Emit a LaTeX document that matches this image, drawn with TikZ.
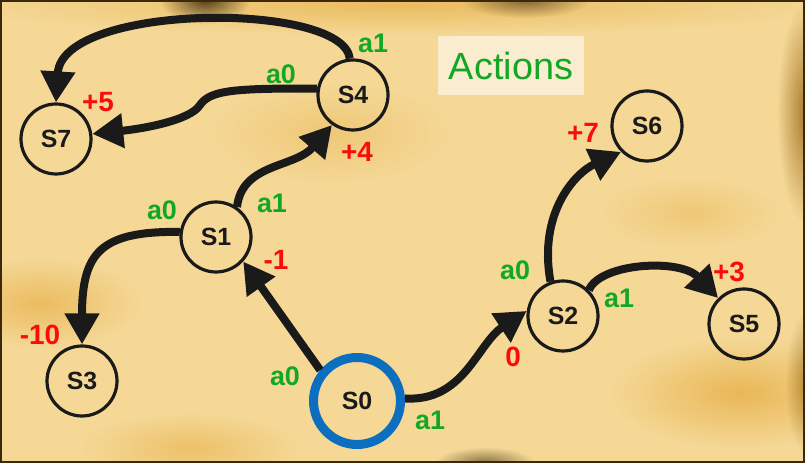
\documentclass[tikz,border=0pt]{standalone}
\usepackage{fontspec}
\setmainfont{Liberation Sans}
\usetikzlibrary{arrows.meta,fadings}
\definecolor{mlparch}{RGB}{245,216,150}
\definecolor{mlburn}{RGB}{60,40,10}
\definecolor{mlumber}{RGB}{150,100,20}
\definecolor{mlochre}{RGB}{228,170,60}
\definecolor{mlgreen}{RGB}{18,168,38}
\definecolor{mlred}{RGB}{250,12,12}
\definecolor{mlblue}{RGB}{12,110,190}
\definecolor{mlink}{RGB}{26,26,26}
\tikzfading[name=mlfuzz, inner color=transparent!0, outer color=transparent!100]

\begin{document}
\begin{tikzpicture}[x=1bp,y=1bp,
  state/.style={draw=mlink, line width=3.2bp, circle, minimum size=70bp, inner sep=0pt,
    text=mlink, font=\bfseries\fontsize{25}{28}\selectfont},
  start/.style={state, draw=mlblue, line width=9bp, minimum size=87bp},
  act/.style={text=mlgreen, font=\bfseries\fontsize{27}{29}\selectfont, inner sep=0pt},
  rew/.style={text=mlred, font=\bfseries\fontsize{28}{30}\selectfont, inner sep=0pt},
  move/.style={draw=mlink, line width=8bp, -{Triangle[length=31bp,width=33bp]}},
  stain/.style={path fading=mlfuzz}]
\useasboundingbox (0,0) rectangle (805,463);

% Parchment
\fill[mlparch] (0,0) rectangle (805,463);
\fill[mlochre, opacity=0.6, stain] (400,458) ellipse (440 and 30);
\fill[mlochre, opacity=0.6, stain] (40,160) ellipse (100 and 45);
\fill[mlochre, opacity=0.7, stain] (740,70) ellipse (130 and 55);
\fill[mlochre, opacity=0.5, stain] (190,15) ellipse (110 and 35);
\fill[mlochre, opacity=0.35, stain] (330,330) ellipse (120 and 50);
\fill[mlochre, opacity=0.35, stain] (690,250) ellipse (90 and 35);
\fill[mlburn, opacity=0.85, stain] (205,463) ellipse (45 and 24);
\fill[mlburn, opacity=0.6, stain] (525,463) ellipse (65 and 18);
\fill[mlumber, opacity=0.8, stain] (805,350) ellipse (28 and 110);
\fill[mlumber, opacity=0.6, stain] (805,80) ellipse (20 and 70);
\fill[mlburn, opacity=0.6, stain] (485,0) ellipse (50 and 16);
\draw[mlburn, line width=2bp] (1,1) rectangle (804,462);

% Legend
\node[fill=white, fill opacity=0.55, text opacity=1, text=mlgreen,
  font=\fontsize{38}{40}\selectfont, minimum width=146bp, minimum height=59bp] (actions) at (511,397) {Actions};

% States
\node[start] (s0) at (357,62) {S0};
\node[state] (s1) at (216,226) {S1};
\node[state] (s2) at (563,147) {S2};
\node[state] (s3) at (82,82) {S3};
\node[state] (s4) at (353,368) {S4};
\node[state] (s5) at (744,139) {S5};
\node[state] (s6) at (647,337) {S6};
\node[state] (s7) at (56,324) {S7};

% Moves
\draw[move] (s0.140) -- (s1.-42);
\draw[move] (s0.3) .. controls (464,61) and (477,119) .. (s2.172);
\draw[move] (s1.172) .. controls (100,232) and (82,210) .. (s3.north);
\draw[move] (s1.55) .. controls (242,300) and (295,295) .. (s4.235);
\draw[move] (s4.170) .. controls (230,375) and (210,372) .. (200,358)
  .. controls (190,342) and (140,334) .. (s7.8);
\draw[move] (s4.95) .. controls (343,462) and (62,460) .. (s7.north);
\draw[move] (s2.110) .. controls (538,250) and (575,290) .. (s6.225);
\draw[move] (s2.45) .. controls (600,200) and (680,205) .. (s5.135);

% Action labels
\node[act] (s0a0) at (285,87) {a0};
\node[act] (s0a1) at (430,43) {a1};
\node[act] (s1a0) at (162,253) {a0};
\node[act] (s1a1) at (272,260) {a1};
\node[act] (s2a0) at (515,193) {a0};
\node[act] (s2a1) at (619,165) {a1};
\node[act] (s4a0) at (281,389) {a0};
\node[act] (s4a1) at (373,420) {a1};

% Rewards
\node[rew] (r1) at (276,203) {-1};
\node[rew] (r2) at (513,106) {0};
\node[rew] (r3) at (40,128) {-10};
\node[rew] (r4) at (357,311) {+4};
\node[rew] (r5) at (729,191) {+3};
\node[rew] (r6) at (583,330) {+7};
\node[rew] (r7) at (98,361) {+5};
\end{tikzpicture}
\end{document}
